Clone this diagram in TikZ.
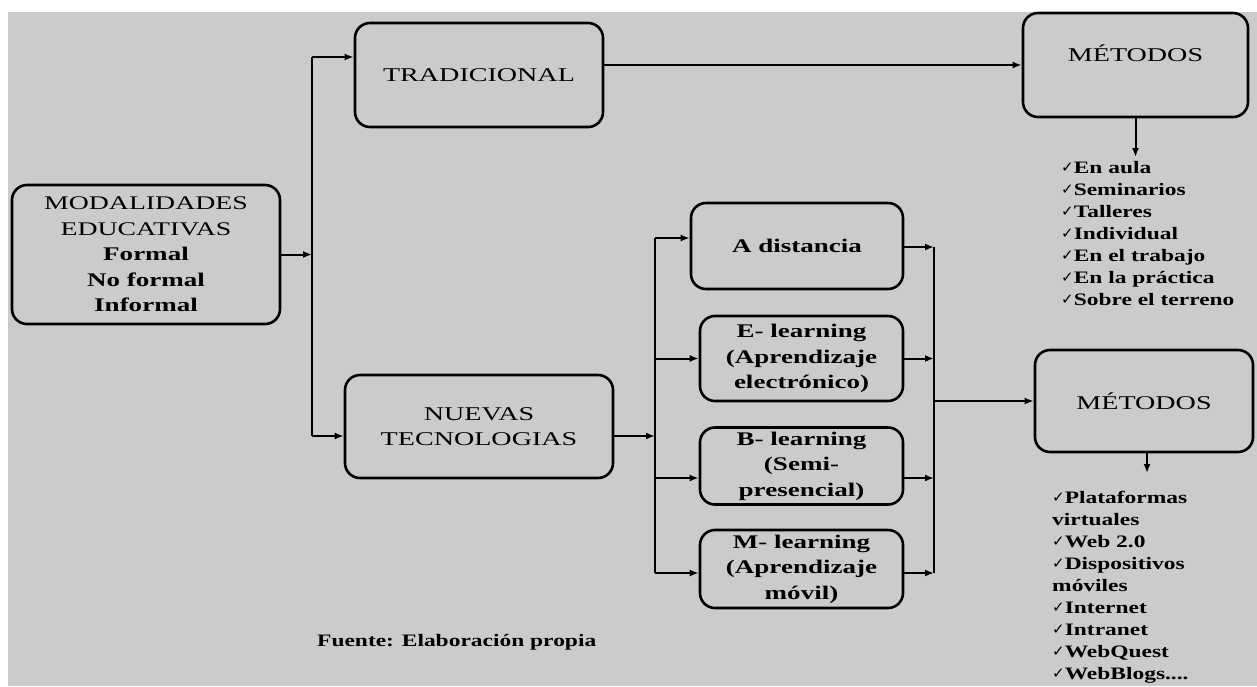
\documentclass[tikz,border=0pt]{standalone}
\usepackage{fontspec}
\setmainfont{Liberation Serif}
\newfontfamily\titlefont[FakeStretch=1.44]{Liberation Serif}
\newfontfamily\boxfont[FakeStretch=1.4]{Liberation Serif}
\newfontfamily\listfont[FakeStretch=1.34]{Liberation Serif}
\newfontfamily\chkfont{DejaVu Sans}
\newcommand{\ck}{\raisebox{1pt}{\chkfont\fontsize{15}{15}\selectfont ✓}}
\usetikzlibrary{arrows.meta}
\definecolor{bg}{HTML}{CBCBCB}
\begin{document}
\begin{tikzpicture}[x=1pt,y=-1pt,
  box/.style={draw=black, line width=2.6pt, rounded corners=15pt, inner sep=2pt},
  title/.style={font=\titlefont\fontsize{19.5}{25.5}\selectfont, align=center, text=black},
  body/.style={font=\boxfont\bfseries\fontsize{19.3}{25.5}\selectfont, align=center, text=black},
  listtxt/.style={font=\listfont\bfseries\fontsize{17.5}{22}\selectfont, align=left, inner sep=0pt, text=black},
  conn/.style={draw=black, line width=2pt},
  arr/.style={conn, -{Latex[length=9pt,width=7pt]}}
]
\useasboundingbox[fill=white] (0,0) rectangle (1257,686);
\fill[bg] (8,12) rectangle (1257,686);

% boxes
\node[box, body, minimum width=268pt, minimum height=139pt] (mod) at (146,254.5)
  {\titlefont\mdseries MODALIDADES\\\titlefont\mdseries EDUCATIVAS\\Formal\\No formal\\Informal};
\node[box, title, minimum width=248pt, minimum height=104pt] (trad) at (479,75) {TRADICIONAL};
\node[box, minimum width=225pt, minimum height=104pt,
  label={[title, yshift=12pt]center:MÉTODOS}] (met1) at (1135.5,65) {};
\node[box, title, minimum width=268pt, minimum height=103pt] (nt) at (479,426.5) {NUEVAS\\TECNOLOGIAS};
\node[box, body, minimum width=212pt, minimum height=86pt] (ad) at (797,246) {A distancia};
\node[box, body, minimum width=203pt, minimum height=85pt] (el) at (801.5,358.5) {E- learning\\(Aprendizaje\\electrónico)};
\node[box, body, minimum width=203pt, minimum height=77pt, inner sep=0pt] (bl) at (801.5,466) {B- learning\\(Semi-\\presencial)};
\node[box, body, minimum width=203pt, minimum height=78pt, inner sep=0pt] (ml) at (801.5,569) {M- learning\\(Aprendizaje\\móvil)};
\node[box, title, minimum width=218pt, minimum height=102pt] (met2) at (1144,401) {MÉTODOS};

% lists
\node[listtxt, anchor=north west] (list1) at (1061,161) {\ck En aula\\\ck Seminarios\\\ck Talleres\\\ck Individual\\\ck En el trabajo\\\ck En la práctica\\\ck Sobre el terreno};
\node[listtxt, anchor=north west] (list2) at (1052,491) {\ck Plataformas\\virtuales\\\ck Web 2.0\\\ck Dispositivos\\móviles\\\ck Internet\\\ck Intranet\\\ck WebQuest\\\ck WebBlogs....};
\node[listtxt, anchor=west] (src) at (317,642) {Fuente: Elaboración propia};

% bus coordinates
\coordinate (b1t) at (312,57);
\coordinate (b1b) at (312,436);
\coordinate (b2t) at (655,238);
\coordinate (b2m) at (655,436);
\coordinate (b2c) at (655,478);
\coordinate (b2b) at (655,573);
\coordinate (b3t) at (934,247);
\coordinate (b3m) at (934,401);
\coordinate (b3c) at (934,478);
\coordinate (b3b) at (934,573);
\coordinate (l1top) at (1135.5,157);
\coordinate (l2top) at (1147,473);

% connectors
\draw[conn] (b1t) -- (b1b);
\draw[arr] (mod.east) -- (mod.east -| b1t);
\draw[arr] (b1t) -- (b1t -| trad.west);
\draw[arr] (b1b) -- (b1b -| nt.west);
\draw[arr] (trad.east |- met1.west) -- (met1.west);
\draw[arr] (met1.south) -- (l1top);

\draw[arr] (nt.east |- b2m) -- (b2m);
\draw[conn] (b2t) -- (b2b);
\draw[arr] (b2t) -- (b2t -| ad.west);
\draw[arr] (b2t |- el.west) -- (el.west);
\draw[arr] (b2c) -- (b2c -| bl.west);
\draw[arr] (b2b) -- (b2b -| ml.west);

\draw[arr] (ad.east |- b3t) -- (b3t);
\draw[arr] (el.east) -- (el.east -| b3t);
\draw[arr] (bl.east |- b3c) -- (b3c);
\draw[arr] (ml.east |- b3b) -- (b3b);
\draw[conn] (b3t) -- (b3b);
\draw[arr] (b3m) -- (b3m -| met2.west);
\draw[arr] (met2.south -| l2top) -- (l2top);
\end{tikzpicture}
\end{document}
